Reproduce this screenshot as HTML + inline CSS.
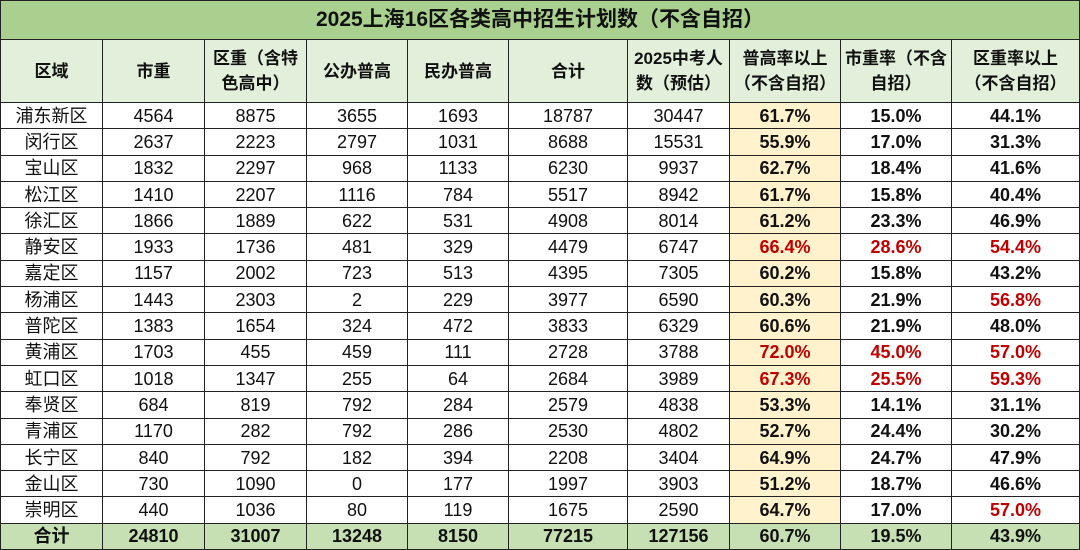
<!DOCTYPE html>
<html><head><meta charset="utf-8">
<style>
html,body{margin:0;padding:0;background:#fff;}
body{width:1080px;height:550px;overflow:hidden;font-family:"Liberation Sans","Noto Sans CJK SC",sans-serif;}
table{border-collapse:collapse;table-layout:fixed;position:absolute;left:0;top:0;width:1079px;}
td{border:1px solid #222;text-align:center;padding:0;font-size:18px;color:#111;height:25.3px;line-height:20px;overflow:hidden;white-space:nowrap;}
.title td{background:#a9d08e;height:38px;font-size:21px;font-weight:bold;}
.head td{background:#e2efda;height:62px;font-weight:bold;line-height:25px;font-size:17px;}
.p{font-weight:bold;}
.y{background:#fff2cc;}
.r{color:#c00000;}
.tot td{background:#c6e0b4;font-weight:bold;}
</style></head><body>
<table>
<colgroup><col style="width:102px"><col style="width:102px"><col style="width:102px"><col style="width:101px"><col style="width:101px"><col style="width:119px"><col style="width:102px"><col style="width:111px"><col style="width:111px"><col style="width:128px"></colgroup>
<tbody id="tb">
<tr class="title"><td colspan="10">2025上海16区各类高中招生计划数（不含自招）</td></tr>
<tr class="head">
<td>区域</td>
<td>市重</td>
<td>区重（含特<br>色高中）</td>
<td>公办普高</td>
<td>民办普高</td>
<td>合计</td>
<td>2025中考人<br>数（预估）</td>
<td>普高率以上<br>（不含自招）</td>
<td>市重率（不含<br>自招）</td>
<td>区重率以上<br>（不含自招）</td>
</tr>
</tbody></table>
<script>
const districts=["浦东新区","闵行区","宝山区","松江区","徐汇区","静安区","嘉定区","杨浦区","普陀区","黄浦区","虹口区","奉贤区","青浦区","长宁区","金山区","崇明区"];
const cityKey=[4564,2637,1832,1410,1866,1933,1157,1443,1383,1703,1018,684,1170,840,730,440];
const districtKey=[8875,2223,2297,2207,1889,1736,2002,2303,1654,455,1347,819,282,792,1090,1036];
const publicGen=[3655,2797,968,1116,622,481,723,2,324,459,255,792,792,182,0,80];
const privateGen=[1693,1031,1133,784,531,329,513,229,472,111,64,284,286,394,177,119];
const totals=[18787,8688,6230,5517,4908,4479,4395,3977,3833,2728,2684,2579,2530,2208,1997,1675];
const candidates=[30447,15531,9937,8942,8014,6747,7305,6590,6329,3788,3989,4838,4802,3404,3903,2590];
const genRate=["61.7%","55.9%","62.7%","61.7%","61.2%","66.4%","60.2%","60.3%","60.6%","72.0%","67.3%","53.3%","52.7%","64.9%","51.2%","64.7%"];
const cityRate=["15.0%","17.0%","18.4%","15.8%","23.3%","28.6%","15.8%","21.9%","21.9%","45.0%","25.5%","14.1%","24.4%","24.7%","18.7%","17.0%"];
const distRate=["44.1%","31.3%","41.6%","40.4%","46.9%","54.4%","43.2%","56.8%","48.0%","57.0%","59.3%","31.1%","30.2%","47.9%","46.6%","57.0%"];
const totalRow=["合计","24810","31007","13248","8150","77215","127156","60.7%","19.5%","43.9%"];
const tb=document.getElementById('tb');
const names=["district","city-key","district-key","public","private","total","candidates","general-rate","city-rate","district-rate"];
for(let i=0;i<districts.length;i++){
  const tr=document.createElement('tr');
  
  
  const vals=[districts[i],cityKey[i],districtKey[i],publicGen[i],privateGen[i],totals[i],candidates[i],genRate[i],cityRate[i],distRate[i]];
  vals.forEach((v,j)=>{
    const td=document.createElement('td');
    
    
    td.textContent=v;
    if(j>=7){td.className='p';
      const n=parseFloat(v);
      if((j===7&&n>=66)||(j===8&&n>=25)||(j===9&&n>=50))td.className+=' r';}
    if(j===7)td.className+=' y';
    tr.appendChild(td);
  });
  tb.appendChild(tr);
}
const tr=document.createElement('tr');
tr.className='tot';


totalRow.forEach((v,j)=>{
  const td=document.createElement('td');
  
  
  td.textContent=v;
  tr.appendChild(td);
});
tb.appendChild(tr);
</script>
</body></html>
